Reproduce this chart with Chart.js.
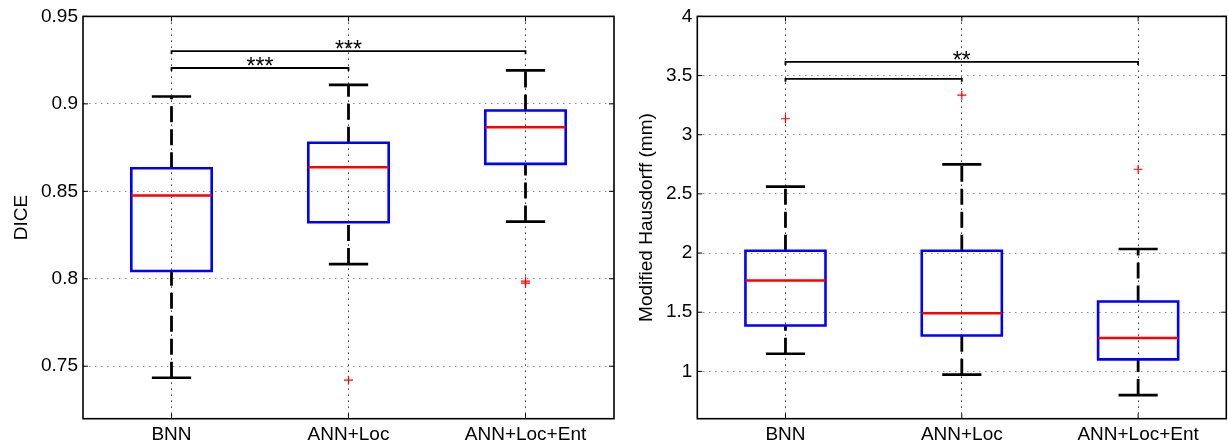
<!DOCTYPE html>
<html>
<head>
<meta charset="utf-8">
<script src="https://cdn.jsdelivr.net/npm/chart.js@4.4.1/dist/chart.umd.min.js"></script>
<style>
  html, body { margin: 0; padding: 0; background: #fff; overflow: hidden; }
  #wrap { position: relative; width: 1228px; height: 445px; overflow: hidden; }
  canvas { position: absolute; top: 0; }
  #diceChart { left: 0; }
  #mhdChart { left: 620px; }
</style>
</head>
<body>
<div id="wrap">
  <canvas id="diceChart" width="620" height="445"></canvas>
  <canvas id="mhdChart" width="612" height="445"></canvas>
</div>
<script>
const categories = ['BNN', 'ANN+Loc', 'ANN+Loc+Ent'];

// DICE (left panel)
const diceLow  = [0.7434, 0.8084, 0.8327];
const diceQ1   = [0.8044, 0.8323, 0.8657];
const diceMed  = [0.8476, 0.8637, 0.8866];
const diceQ3   = [0.8632, 0.8778, 0.8962];
const diceHigh = [0.9042, 0.9108, 0.9191];
const diceOutliers = [[], [0.742], [0.7987, 0.7975]];
const diceTicks = [0.75, 0.8, 0.85, 0.9, 0.95];
const diceSigFrom = [0, 0];
const diceSigTo   = [1, 2];
const diceSigY    = [0.9205, 0.9301];
const diceSigText = ['***', '***'];

// Modified Hausdorff (right panel)
const mhdLow  = [1.149, 0.972, 0.800];
const mhdQ1   = [1.388, 1.303, 1.101];
const mhdMed  = [1.767, 1.492, 1.281];
const mhdQ3   = [2.020, 2.020, 1.590];
const mhdHigh = [2.562, 2.750, 2.034];
const mhdOutliers = [[3.135], [3.334], [2.708]];
const mhdTicks = [1, 1.5, 2, 2.5, 3, 3.5, 4];
const mhdSigFrom = [0, 0];
const mhdSigTo   = [1, 2];
const mhdSigY    = [3.472, 3.615];
const mhdSigText = ['', '**'];

const FONT = '"Liberation Sans", Arial, Helvetica, sans-serif';
const BOX_HALF = 0.227, CAP_HALF = 0.111;

// draws the matlab style frame, inner ticks and the star labels
const matlabFrame = {
    id: 'matlabFrame',
    afterDatasetsDraw(chart, args, opts) {
        const { ctx, chartArea: a, scales: { x, y } } = chart;
        ctx.save();
        ctx.strokeStyle = '#000';
        ctx.lineWidth = 1;
        ctx.beginPath();
        x.ticks.forEach(t => {
            const px = x.getPixelForValue(t.value);
            ctx.moveTo(px, a.bottom); ctx.lineTo(px, a.bottom - 5);
            ctx.moveTo(px, a.top); ctx.lineTo(px, a.top + 5);
        });
        y.ticks.forEach(t => {
            const py = y.getPixelForValue(t.value);
            ctx.moveTo(a.left, py); ctx.lineTo(a.left + 5, py);
            ctx.moveTo(a.right, py); ctx.lineTo(a.right - 5, py);
        });
        ctx.stroke();
        ctx.lineWidth = 1.6;
        ctx.strokeRect(a.left, a.top, a.right - a.left, a.bottom - a.top);

        ctx.fillStyle = '#000';
        ctx.font = '23px ' + FONT;
        ctx.textAlign = 'center';
        ctx.textBaseline = 'alphabetic';
        opts.text.forEach((s, i) => {
            if (!s) return;
            const px = x.getPixelForValue((opts.from[i] + opts.to[i]) / 2 + 1);
            const py = y.getPixelForValue(opts.y[i]);
            ctx.fillText(s, px, py + 6);
        });
        ctx.restore();
    }
};

function make(id, d) {
    const boxPts = [], medPts = [], capPts = [], outPts = [], sigPts = [];
    const whiskers = [];
    d.q1.forEach((v, i) => {
        const x = i + 1;
        boxPts.push({ x: x - BOX_HALF, y: v }, { x: x + BOX_HALF, y: v }, { x: x + BOX_HALF, y: d.q3[i] },
                    { x: x - BOX_HALF, y: d.q3[i] }, { x: x - BOX_HALF, y: v }, { x, y: null });
        medPts.push({ x: x - BOX_HALF, y: d.med[i] }, { x: x + BOX_HALF, y: d.med[i] }, { x, y: null });
        capPts.push({ x: x - CAP_HALF, y: d.low[i] }, { x: x + CAP_HALF, y: d.low[i] }, { x, y: null },
                    { x: x - CAP_HALF, y: d.high[i] }, { x: x + CAP_HALF, y: d.high[i] }, { x, y: null });
        whiskers.push([{ x, y: d.low[i] }, { x, y: v }], [{ x, y: d.q3[i] }, { x, y: d.high[i] }]);
        d.out[i].forEach(o => outPts.push({ x, y: o }));
    });
    d.sigY.forEach((v, i) => {
        const a = d.sigFrom[i] + 1, b = d.sigTo[i] + 1;
        sigPts.push({ x: a, y: v - d.drop }, { x: a, y: v }, { x: b, y: v }, { x: b, y: v - d.drop }, { x: a, y: null });
    });

    const line = (data, color, width, order, extra) => Object.assign({
        data, showLine: true, borderColor: color, borderWidth: width, pointRadius: 0,
        tension: 0, spanGaps: false, order, borderJoinStyle: 'miter', borderCapStyle: 'butt'
    }, extra || {});

    const datasets = [
        line(medPts, '#ff0000', 2.5, 0),
        line(boxPts, '#0000ff', 2.6, 1, { borderCapStyle: 'square' }),
        line(capPts, '#000', 2.7, 2),
        ...whiskers.map(w => line(w, '#000', 2.8, 3, { borderDash: [16, 7] })),
        line(sigPts, '#000', 1.8, 4),
        { data: outPts, showLine: false, pointStyle: 'cross', pointRadius: 4.5, pointBorderWidth: 1.2,
          pointBorderColor: '#ff0000', pointBackgroundColor: '#ff0000', order: -1 }
    ];

    const tickFont = { family: FONT, size: 19 };
    new Chart(document.getElementById(id), {
        type: 'scatter',
        data: { datasets },
        options: {
            responsive: false, animation: false, events: [],
            layout: { padding: d.padding },
            plugins: {
                legend: { display: false }, tooltip: { enabled: false },
                matlabFrame: { from: d.sigFrom, to: d.sigTo, y: d.sigY, text: d.sigText }
            },
            scales: {
                x: {
                    type: 'linear', min: 0.5, max: 3.5,
                    afterBuildTicks: s => { s.ticks = categories.map((c, i) => ({ value: i + 1 })); },
                    afterFit: s => { s.height = 26.3; },
                    ticks: { callback: v => categories[Math.round(v) - 1], font: tickFont, color: '#000',
                             padding: 5, maxRotation: 0, autoSkip: false },
                    grid: { color: '#333', lineWidth: 1, drawTicks: false },
                    border: { display: false, dash: [1.5, 4.5] }
                },
                y: {
                    min: d.min, max: d.max,
                    afterBuildTicks: s => { s.ticks = d.ticks.map(v => ({ value: v })); },
                    afterFit: s => { s.width = d.yWidth; },
                    ticks: { callback: v => String(+v.toFixed(2)), font: tickFont, color: '#000', padding: 5 },
                    grid: { color: '#8c8c8c', lineWidth: 1, drawTicks: false },
                    border: { display: false, dash: [1.5, 4.5] },
                    title: { display: true, text: d.title, color: '#000', font: { family: FONT, size: 19, lineHeight: 1.2 },
                             padding: { top: d.titlePad, bottom: 0 } }
                }
            }
        },
        plugins: [matlabFrame]
    });
}

make('diceChart', {
    low: diceLow, q1: diceQ1, med: diceMed, q3: diceQ3, high: diceHigh, out: diceOutliers,
    sigFrom: diceSigFrom, sigTo: diceSigTo, sigY: diceSigY, sigText: diceSigText, drop: 0.0017,
    min: 0.72, max: 0.95, ticks: diceTicks, title: 'DICE', titlePad: 10.6, yWidth: 83,
    padding: { top: 15.7, right: 6, left: 0, bottom: 0 }
});
make('mhdChart', {
    low: mhdLow, q1: mhdQ1, med: mhdMed, q3: mhdQ3, high: mhdHigh, out: mhdOutliers,
    sigFrom: mhdSigFrom, sigTo: mhdSigTo, sigY: mhdSigY, sigText: mhdSigText, drop: 0.025,
    min: 0.6, max: 4, ticks: mhdTicks, title: 'Modified Hausdorff (mm)', titlePad: 15.6, yWidth: 77.3,
    padding: { top: 15, right: 2.2, left: 0, bottom: 0 }
});
</script>
</body>
</html>
